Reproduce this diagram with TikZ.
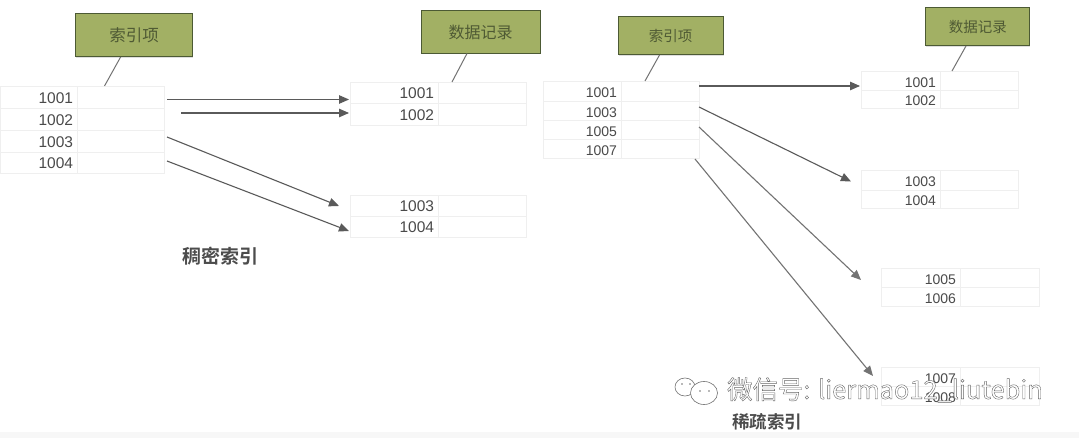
\documentclass[tikz,border=0pt]{standalone}
\usepackage{fontspec}
\setmainfont{Liberation Sans}
\newfontfamily\cjk{Noto Sans CJK SC}
\newfontfamily\cjkb{Noto Sans CJK SC Bold}
\usetikzlibrary{arrows.meta,shadows}
\definecolor{gridc}{HTML}{EFEFEF}
\definecolor{numc}{HTML}{4A4A4A}
\definecolor{olive}{HTML}{A2B064}
\definecolor{oliveb}{HTML}{4C5A34}
\definecolor{olivet}{HTML}{4F5A34}
\definecolor{arrowc}{HTML}{5A5A5A}
\newcommand{\numdrop}{0pt}
\tikzset{
  cellbox/.style={draw=gridc,line width=0.9pt,fill=white,inner ysep=0pt,inner xsep=4pt,outer sep=0pt,text=numc,align=right},
  tagbox/.style={draw=oliveb,line width=1pt,fill=olive,text=olivet,inner sep=0pt,outer sep=0pt,
    drop shadow={shadow xshift=0.6pt,shadow yshift=-0.6pt,fill=black!25}},
  tagline/.style={draw=arrowc!85,line width=1pt},
  flow/.style={draw=arrowc,line width=1.1pt,-{Triangle[length=10pt,width=8.5pt]}},
  caption/.style={inner sep=0pt,text=black!70},
  bigno/.style={font=\renewcommand{\numdrop}{-0.8pt}\fontsize{15.5}{16}\selectfont},
  smallno/.style={font=\renewcommand{\numdrop}{-1.8pt}\fontsize{14}{15}\selectfont},
}
% name, x0, xsplit, x1, y0, y1, number, style
\newcommand{\trow}[8]{%
  \pgfmathsetmacro{\wb}{#4-#3}\pgfmathsetmacro{\hh}{#6-#5}%
  \pgfmathsetmacro{\tw}{#3-#2-8}%
  \node[cellbox,#8,text width=\tw pt,minimum height=\hh pt] (#1) at ({(#2+#3)/2},{(#5+#6)/2}) {\raisebox{\numdrop}[\height][\depth]{#7}};
  \node[cellbox,minimum width=\wb pt,minimum height=\hh pt] (#1v) at ({(#3+#4)/2},{(#5+#6)/2}) {};
}
\begin{document}
\begin{tikzpicture}[x=1pt,y=-1pt]
\useasboundingbox (0,0) rectangle (1079,438);
\fill[white] (0,0) rectangle (1079,438);
\fill[black!3] (0,432) rectangle (1079,438);
% left index
\trow{a1}{0}{77}{164}{86}{108}{1001}{bigno}
\trow{a2}{0}{77}{164}{108}{130}{1002}{bigno}
\trow{a3}{0}{77}{164}{130}{152}{1003}{bigno}
\trow{a4}{0}{77}{164}{152}{173}{1004}{bigno}
\trow{b1}{350}{438}{526}{82}{103}{1001}{bigno}
\trow{b2}{350}{438}{526}{103}{125}{1002}{bigno}
\trow{c1}{350}{438}{526}{195}{216}{1003}{bigno}
\trow{c2}{350}{438}{526}{216}{237}{1004}{bigno}
% right index
\trow{d1}{543}{621}{699}{81}{101}{1001}{smallno}
\trow{d2}{543}{621}{699}{101}{120}{1003}{smallno}
\trow{d3}{543}{621}{699}{120}{139}{1005}{smallno}
\trow{d4}{543}{621}{699}{139}{158}{1007}{smallno}
\trow{e1}{861}{940}{1018}{71}{90}{1001}{smallno}
\trow{e2}{861}{940}{1018}{90}{108}{1002}{smallno}
\trow{f1}{861}{940}{1018}{170}{190}{1003}{smallno}
\trow{f2}{861}{940}{1018}{190}{208}{1004}{smallno}
\trow{g1}{881}{960}{1039}{268}{287}{1005}{smallno}
\trow{g2}{881}{960}{1039}{287}{306}{1006}{smallno}
\trow{h1}{881}{960}{1039}{367}{386}{1007}{smallno}
\trow{h2}{881}{960}{1039}{386}{405}{1008}{smallno}
% tags
\node[tagbox,font=\cjk\fontsize{16.5}{17}\selectfont,minimum width=117pt,minimum height=43pt] (t1) at (134,35.5) {索引项};
\node[tagbox,font=\cjk\fontsize{16}{17}\selectfont,minimum width=119pt,minimum height=43pt] (t2) at (480.5,32) {数据记录};
\node[tagbox,font=\cjk\fontsize{14.5}{15}\selectfont,minimum width=105pt,minimum height=38pt] (t3) at (670.5,36) {索引项};
\node[tagbox,font=\cjk\fontsize{14.5}{15}\selectfont,minimum width=104pt,minimum height=38pt] (t4) at (977.75,27) {数据记录};
\draw[tagline] ([xshift=-13.4pt]t1.south) -- ([xshift=27.5pt]a1v.north west);
\draw[tagline] ([xshift=-13.5pt]t2.south) -- ([xshift=14pt]b1v.north west);
\draw[tagline] ([xshift=-11pt]t3.south) -- ([xshift=24pt]d1v.north west);
\draw[tagline] ([xshift=-11.75pt]t4.south) -- ([xshift=12pt]e1v.north west);
% arrows
\draw[flow] ([shift={(3pt,-2.5pt)}]a1v.east) -- ([shift={(-1pt,-7pt)}]b1.west);
\draw[flow] ([shift={(17pt,6pt)}]a2v.east) -- ([shift={(-1pt,1pt)}]b2.west);
\draw[flow] ([shift={(3pt,4pt)}]a3v.east) -- ([shift={(-11pt,-0.5pt)}]c1.west);
\draw[flow] ([shift={(3pt,1.5pt)}]a4v.east) -- ([shift={(-1pt,-4.5pt)}]c2.west);
\draw[flow] ([shift={(0pt,5pt)}]d1v.east) -- ([shift={(-1pt,-5.5pt)}]e1.west);
\draw[flow] ([shift={(0pt,3.5pt)}]d2v.east) -- ([shift={(-10pt,-1.5pt)}]f1.west);
\draw[flow,draw=arrowc!85] ([shift={(0pt,2.5pt)}]d3v.east) -- ([shift={(-20pt,-2.5pt)}]g1.west);
\draw[flow,draw=arrowc!85] ([shift={(-4pt,-10.5pt)}]d4v.east) -- ([shift={(-8pt,0.5pt)}]h1.west);
% captions
\node[caption,font=\cjkb\fontsize{19}{20}\selectfont] (cap1) at (220,256) {稠密索引};
\node[caption,font=\cjkb\fontsize{17.5}{18}\selectfont] (cap2) at (767,422) {稀疏索引};
% watermark
\begin{scope}[draw=black!55,fill=white,line width=0.6pt]
  \draw[fill=white] (685,387) ellipse [x radius=10pt,y radius=9pt];
  \draw[fill=white] (704,393) ellipse [x radius=13.5pt,y radius=11.5pt];
  \fill[black!55] (682,384) circle [radius=0.9pt] (690,384) circle [radius=0.9pt]
    (700,391) circle [radius=0.9pt] (709,391) circle [radius=0.9pt];
\end{scope}
\node[inner sep=0pt,anchor=west,text=white] (wm) at (727,390)
  {\special{pdf:code q 2 Tr 0.4 w 0.4 G}\cjk\fontsize{25.4}{26}\selectfont 微信号: liermao12\_liutebin\special{pdf:code Q}};
\end{tikzpicture}
\end{document}
